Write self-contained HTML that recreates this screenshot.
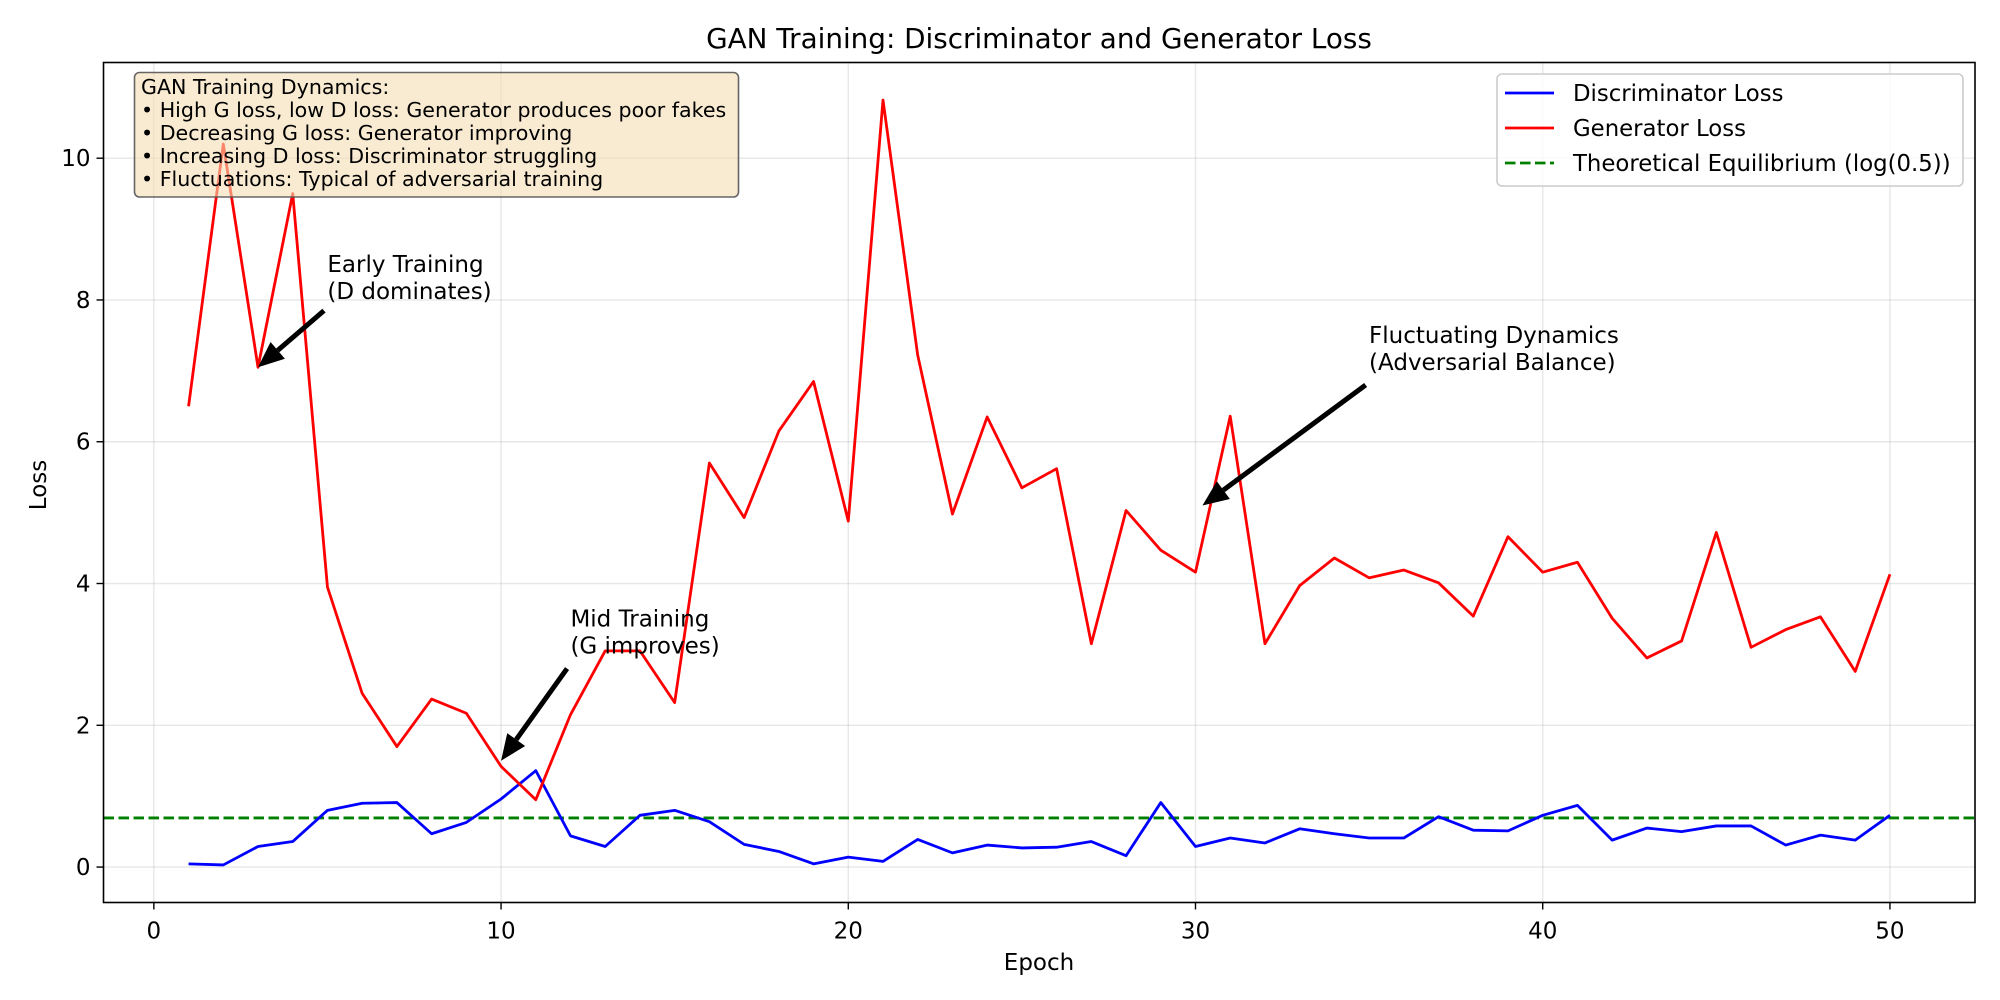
<!DOCTYPE html>
<html><head><meta charset="utf-8"><style>
html,body{margin:0;padding:0;background:#fff}
svg{display:block;font-family:"DejaVu Sans","Liberation Sans",sans-serif}
</style></head><body>
<svg id="chart" width="2000" height="1000" viewBox="0 0 2000 1000" xmlns="http://www.w3.org/2000/svg">
<rect x="0" y="0" width="2000" height="1000" fill="#fff"/>
<g id="grid"></g>
<g id="series"></g>
<g id="axes"></g>
<g id="ann"></g>
<text x="1039" y="48" text-anchor="middle" font-size="27.8" fill="#000">GAN Training: Discriminator and Generator Loss</text>
<text x="1039" y="970" text-anchor="middle" font-size="23" fill="#000">Epoch</text>
<text x="0" y="0" transform="translate(46,485) rotate(-90)" text-anchor="middle" font-size="23" fill="#000">Loss</text>
</svg>
<script>
const epochs = [1,2,3,4,5,6,7,8,9,10,11,12,13,14,15,16,17,18,19,20,21,22,23,24,25,26,27,28,29,30,31,32,33,34,35,36,37,38,39,40,41,42,43,44,45,46,47,48,49,50];
const genLoss = [6.5,10.2,7.05,9.5,3.95,2.45,1.7,2.37,2.17,1.42,0.95,2.15,3.05,3.05,2.32,5.7,4.93,6.15,6.85,4.88,10.82,7.22,4.98,6.35,5.35,5.62,3.15,5.03,4.47,4.16,6.36,3.15,3.97,4.36,4.08,4.19,4.01,3.54,4.66,4.16,4.3,3.51,2.95,3.19,4.72,3.1,3.35,3.53,2.76,4.13];
const discLoss = [0.045,0.03,0.29,0.36,0.8,0.9,0.91,0.47,0.63,0.96,1.36,0.44,0.29,0.73,0.8,0.64,0.32,0.22,0.045,0.14,0.08,0.39,0.2,0.31,0.27,0.28,0.36,0.16,0.91,0.29,0.41,0.34,0.54,0.47,0.41,0.41,0.71,0.52,0.51,0.73,0.87,0.38,0.55,0.5,0.58,0.58,0.31,0.45,0.38,0.73];
const equilibrium = [0.693];
const xTicks = [0,10,20,30,40,50];
const yTicks = [0,2,4,6,8,10];
const boxLines = ["GAN Training Dynamics:","• High G loss, low D loss: Generator produces poor fakes","• Decreasing G loss: Generator improving","• Increasing D loss: Discriminator struggling","• Fluctuations: Typical of adversarial training"];
const annots = [
  {lines:["Early Training","(D dominates)"], text:[5.2,8.0], tip:[3,7.05], tail:[4.9,7.85]},
  {lines:["Mid Training","(G improves)"], text:[12.2,3.0], tip:[10,1.5], tail:[11.9,2.8]},
  {lines:["Fluctuating Dynamics","(Adversarial Balance)"], text:[35.2,7.0], tip:[30.2,5.1], tail:[34.9,6.8]}
];
const L=103.5,R=1975,T=62.5,B=902.5;
const xmin=-1.45,xmax=52.45,ymin=-0.5,ymax=11.35;
const X=v=>L+(v-xmin)/(xmax-xmin)*(R-L);
const Y=v=>B-(v-ymin)/(ymax-ymin)*(B-T);
const NS="http://www.w3.org/2000/svg";
function mk(tag,attrs,parent){const e=document.createElementNS(NS,tag);for(const k in attrs)e.setAttribute(k,attrs[k]);parent.appendChild(e);return e;}
const grid=document.getElementById('grid'),series=document.getElementById('series'),axes=document.getElementById('axes'),ann=document.getElementById('ann');
xTicks.forEach(t=>{
  const g=mk('line',{x1:X(t),x2:X(t),y1:T,y2:B,stroke:'#b0b0b0','stroke-opacity':0.3,'stroke-width':1.4},grid);
  
  
  const tk=mk('line',{x1:X(t),x2:X(t),y1:B,y2:B+7,stroke:'#000','stroke-width':1.4},axes);
  
  
  const lb=mk('text',{x:X(t),y:B+36,'text-anchor':'middle','font-size':23,fill:'#000'},axes);
  lb.textContent=t;
  
  
});
yTicks.forEach(t=>{
  const g=mk('line',{x1:L,x2:R,y1:Y(t),y2:Y(t),stroke:'#b0b0b0','stroke-opacity':0.3,'stroke-width':1.4},grid);
  
  
  const tk=mk('line',{x1:L-7,x2:L,y1:Y(t),y2:Y(t),stroke:'#000','stroke-width':1.4},axes);
  
  
  const lb=mk('text',{x:L-13,y:Y(t)+8,'text-anchor':'end','font-size':23,fill:'#000'},axes);
  lb.textContent=t;
  
  
});
const eq=mk('line',{x1:L,x2:R,y1:Y(equilibrium[0]),y2:Y(equilibrium[0]),stroke:'#008000','stroke-width':2.8,'stroke-dasharray':'10.5,4.5'},series);


const dp=mk('polyline',{points:epochs.map((e,i)=>X(e)+','+Y(discLoss[i])).join(' '),fill:'none',stroke:'#0000ff','stroke-width':2.8,'stroke-linejoin':'round'},series);


const gp=mk('polyline',{points:epochs.map((e,i)=>X(e)+','+Y(genLoss[i])).join(' '),fill:'none',stroke:'#ff0000','stroke-width':2.8,'stroke-linejoin':'round'},series);


const frame=mk('rect',{x:L,y:T,width:R-L,height:B-T,fill:'none',stroke:'#000','stroke-width':1.6},axes);


annots.forEach(a=>{
  const x1=X(a.tail[0]),y1=Y(a.tail[1]),x2=X(a.tip[0]),y2=Y(a.tip[1]);
  const dx=x2-x1,dy=y2-y1,len=Math.hypot(dx,dy),ux=dx/len,uy=dy/len;
  const hl=26,hw=11;
  const bx=x2-ux*hl,by=y2-uy*hl;
  const ln=mk('line',{x1:x1,y1:y1,x2:bx,y2:by,stroke:'#000','stroke-width':5},ann);
  
  
  const hd=mk('polygon',{points:`${x2},${y2} ${bx-uy*hw},${by+ux*hw} ${bx+uy*hw},${by-ux*hw}`,fill:'#000'},ann);
  
  
  a.lines.forEach((s,i)=>{
    const t=mk('text',{x:X(a.text[0])-7,y:Y(a.text[1])-28+i*27,'font-size':23,fill:'#000'},ann);
    t.textContent=s;
    
    
  });
});
const ib=mk('rect',{x:134.5,y:72.5,width:604,height:124.5,rx:5,fill:'#f5deb3','fill-opacity':0.6,stroke:'#555','stroke-opacity':0.9,'stroke-width':1.6},ann);


boxLines.forEach((s,i)=>{
  const t=mk('text',{x:141,y:94+i*23,'font-size':20.6,fill:'#000'},ann);
  t.textContent=s;
  
  
});
const lg=mk('rect',{x:1497,y:74,width:466,height:112,rx:5,fill:'#fff','fill-opacity':0.8,stroke:'#ccc','stroke-width':1.6},ann);


const legItems=[["Discriminator Loss","#0000ff",""],["Generator Loss","#ff0000",""],["Theoretical Equilibrium (log(0.5))","#008000","10.5,4.5"]];
legItems.forEach((it,i)=>{
  const y=93+i*35;
  const s=mk('line',{x1:1505,x2:1554,y1:y,y2:y,stroke:it[1],'stroke-width':2.8},ann);
  if(it[2])s.setAttribute('stroke-dasharray',it[2]);
  
  
  const t=mk('text',{x:1573,y:y+8,'font-size':22.8,fill:'#000'},ann);
  t.textContent=it[0];
  
  
});
</script>
</body></html>
